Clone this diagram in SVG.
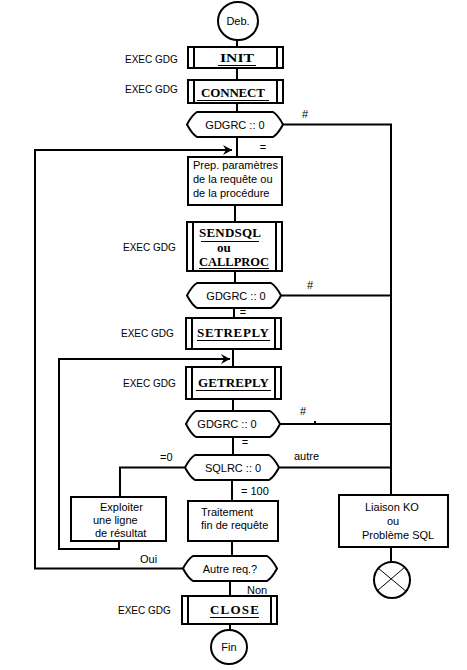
<svg xmlns="http://www.w3.org/2000/svg" width="467" height="670" viewBox="0 0 467 670">
<style>
.bg{fill:#fff}
.box{fill:#fff;stroke:#000;stroke-width:2}
.bar{stroke:#000;stroke-width:2}
.ln{fill:none;stroke:#000;stroke-width:2}
.thin{stroke:#000;stroke-width:1}
.t{font-family:"Liberation Sans",Arial,sans-serif;font-size:11px;fill:#000}
.e{font-family:"Liberation Sans",Arial,sans-serif;font-size:10px;fill:#000}
.b{font-family:"Liberation Serif","Times New Roman",serif;font-weight:bold;font-size:13px;fill:#000}
.c{text-anchor:middle}
</style>
<defs>
<marker id="ah" markerWidth="12" markerHeight="12" refX="10" refY="6" orient="auto" markerUnits="userSpaceOnUse">
<path d="M1,1 L10,6 L1,11 L4,6 Z" fill="#000"/>
</marker>
</defs>
<rect class="bg" x="0" y="0" width="467" height="670"/>

<g id="connectors">
<line class="ln" x1="237" y1="40" x2="237" y2="47"/>
<line class="ln" x1="237" y1="68" x2="237" y2="80"/>
<line class="ln" x1="237" y1="103" x2="237" y2="112"/>
<line class="ln" x1="237" y1="137" x2="237" y2="157"/>
<polyline class="ln" points="283,124.5 391,124.5 391,495"/>
<polyline class="ln" points="183,568.5 35,568.5 35,150 232,150" marker-end="url(#ah)"/>
<line class="ln" x1="235" y1="205" x2="235" y2="222"/>
<line class="ln" x1="235" y1="271" x2="235" y2="283"/>
<line class="ln" x1="281" y1="295.5" x2="391" y2="295.5"/>
<line class="ln" x1="234" y1="308" x2="234" y2="318"/>
<line class="ln" x1="233" y1="349" x2="233" y2="367"/>
<polyline class="ln" points="119,541 119,549 59,549 59,359 230,359" marker-end="url(#ah)"/>
<line class="ln" x1="233" y1="399" x2="233" y2="411"/>
<line class="ln" x1="280" y1="424" x2="391" y2="424"/>
<line class="ln" x1="233" y1="437" x2="233" y2="455"/>
<line class="ln" x1="279" y1="467.5" x2="391" y2="467.5"/>
<polyline class="ln" points="185,467.5 120,467.5 120,497"/>
<line class="ln" x1="232" y1="480" x2="232" y2="501"/>
<line class="ln" x1="232" y1="541" x2="232" y2="556"/>
<line class="ln" x1="230" y1="581" x2="230" y2="596"/>
<line class="ln" x1="230" y1="624" x2="230" y2="630"/>
<line class="ln" x1="391" y1="547" x2="391" y2="562"/>
<rect x="314" y="421" width="2" height="2" fill="#000"/>
</g>

<g id="labels">
<text class="e" x="125" y="63">EXEC GDG</text>
<text class="e" x="125" y="93">EXEC GDG</text>
<text class="e" x="123" y="251">EXEC GDG</text>
<text class="e" x="121" y="337">EXEC GDG</text>
<text class="e" x="123" y="387">EXEC GDG</text>
<text class="e" x="118" y="614">EXEC GDG</text>
<text class="t c" x="305" y="118">#</text>
<text class="t c" x="263" y="151">=</text>
<text class="t c" x="310" y="289">#</text>
<text class="t c" x="243" y="316">=</text>
<text class="t c" x="303" y="415">#</text>
<text class="t c" x="245" y="446">=</text>
<text class="t" x="160" y="461">=0</text>
<text class="t" x="294" y="460">autre</text>
<text class="t" x="241" y="495">= 100</text>
<text class="t" x="140" y="563">Oui</text>
<text class="t" x="247" y="594">Non</text>
</g>

<g id="deb">
<ellipse class="box" cx="238" cy="21" rx="20" ry="19"/>
<text class="t c" x="238" y="25">Deb.</text>
</g>

<g id="init">
<rect class="box" x="188" y="47" width="95" height="21"/>
<line class="bar" x1="194" y1="47" x2="194" y2="68"/>
<line class="bar" x1="277" y1="47" x2="277" y2="68"/>
<text class="b" x="220" y="62" font-size="14" textLength="34" lengthAdjust="spacingAndGlyphs">INIT</text>
<line class="thin" x1="218" y1="65.5" x2="256" y2="65.5"/>
</g>

<g id="connect">
<rect class="box" x="188" y="80" width="95" height="23"/>
<line class="bar" x1="194" y1="80" x2="194" y2="103"/>
<line class="bar" x1="277" y1="80" x2="277" y2="103"/>
<text class="b" x="201" y="97" textLength="64" lengthAdjust="spacing">CONNECT</text>
<line class="thin" x1="197" y1="100.5" x2="269" y2="100.5"/>
</g>

<g id="test1">
<path class="box" d="M197,112 L273,112 Q278,115 283,124.5 Q278,134 273,137 L197,137 Q192,134 187,124.5 Q192,115 197,112 Z"/>
<text class="t c" x="235" y="129">GDGRC :: 0</text>
</g>

<g id="prep">
<rect class="box" x="188" y="157" width="94" height="48"/>
<text class="t" x="193" y="169">Prep. paramètres</text>
<text class="t" x="193" y="183">de la requête ou</text>
<text class="t" x="193" y="197">de la procédure</text>
</g>

<g id="sendsql">
<rect class="box" x="187" y="222" width="95" height="49"/>
<line class="bar" x1="193" y1="222" x2="193" y2="271"/>
<line class="bar" x1="276" y1="222" x2="276" y2="271"/>
<text class="b" x="199" y="237" textLength="62" lengthAdjust="spacing">SENDSQL</text>
<line class="thin" x1="201" y1="241.5" x2="259" y2="241.5"/>
<text class="b" x="217" y="251.5">ou</text>
<text class="b" x="199" y="266" textLength="70" lengthAdjust="spacingAndGlyphs">CALLPROC</text>
<line class="thin" x1="199" y1="268.5" x2="269" y2="268.5"/>
</g>

<g id="test2">
<path class="box" d="M197,283 L271,283 Q276,286 281,295.5 Q276,305 271,308 L197,308 Q192,305 187,295.5 Q192,286 197,283 Z"/>
<text class="t c" x="236" y="300">GDGRC :: 0</text>
</g>

<g id="setreply">
<rect class="box" x="186" y="318" width="95" height="31"/>
<line class="bar" x1="192" y1="318" x2="192" y2="349"/>
<line class="bar" x1="275" y1="318" x2="275" y2="349"/>
<text class="b" x="197" y="337" textLength="72" lengthAdjust="spacing">SETREPLY</text>
<line class="thin" x1="197" y1="340.5" x2="270" y2="340.5"/>
</g>

<g id="getreply">
<rect class="box" x="186" y="367" width="95" height="32"/>
<line class="bar" x1="192" y1="367" x2="192" y2="399"/>
<line class="bar" x1="275" y1="367" x2="275" y2="399"/>
<text class="b" x="198" y="387" textLength="71" lengthAdjust="spacing">GETREPLY</text>
<line class="thin" x1="196" y1="390.5" x2="271" y2="390.5"/>
</g>

<g id="test3">
<path class="box" d="M196,411 L270,411 Q275,414 280,424 Q275,434 270,437 L196,437 Q191,434 186,424 Q191,414 196,411 Z"/>
<text class="t c" x="227" y="428">GDGRC :: 0</text>
</g>

<g id="sqlrc">
<path class="box" d="M195,455 L269,455 Q274,458 279,467.5 Q274,477 269,480 L195,480 Q190,477 185,467.5 Q190,458 195,455 Z"/>
<text class="t c" x="233" y="472">SQLRC :: 0</text>
</g>

<g id="exploiter">
<rect class="box" x="71" y="497" width="95" height="44"/>
<text class="t" x="100" y="511">Exploiter</text>
<text class="t" x="93" y="524">une ligne</text>
<text class="t" x="95" y="537">de résultat</text>
</g>

<g id="traitement">
<rect class="box" x="188" y="501" width="90" height="40"/>
<text class="t" x="201" y="516">Traitement</text>
<text class="t" x="201" y="529">fin de requête</text>
</g>

<g id="autre">
<path class="box" d="M193,556 L267,556 Q272,559 277,568.5 Q272,578 267,581 L193,581 Q188,578 183,568.5 Q188,559 193,556 Z"/>
<text class="t c" x="230" y="573">Autre req.?</text>
</g>

<g id="close">
<rect class="box" x="182" y="596" width="95" height="28"/>
<line class="bar" x1="188" y1="596" x2="188" y2="624"/>
<line class="bar" x1="271" y1="596" x2="271" y2="624"/>
<text class="b" x="210" y="614" textLength="49" lengthAdjust="spacing">CLOSE</text>
<line class="thin" x1="210" y1="617.5" x2="259" y2="617.5"/>
</g>

<g id="fin">
<ellipse class="box" cx="229" cy="647" rx="18" ry="17"/>
<text class="t c" x="229" y="651">Fin</text>
</g>

<g id="liaison">
<rect class="box" x="339" y="495" width="109" height="52"/>
<text class="t" x="365" y="511">Liaison KO</text>
<text class="t c" x="393" y="525">ou</text>
<text class="t" x="362" y="539">Problème SQL</text>
</g>

<g id="stop">
<circle class="box" cx="392" cy="580" r="18"/>
<line class="thin" x1="378" y1="568" x2="407" y2="592"/>
<line class="thin" x1="405" y1="567" x2="377" y2="591"/>
</g>
</svg>
